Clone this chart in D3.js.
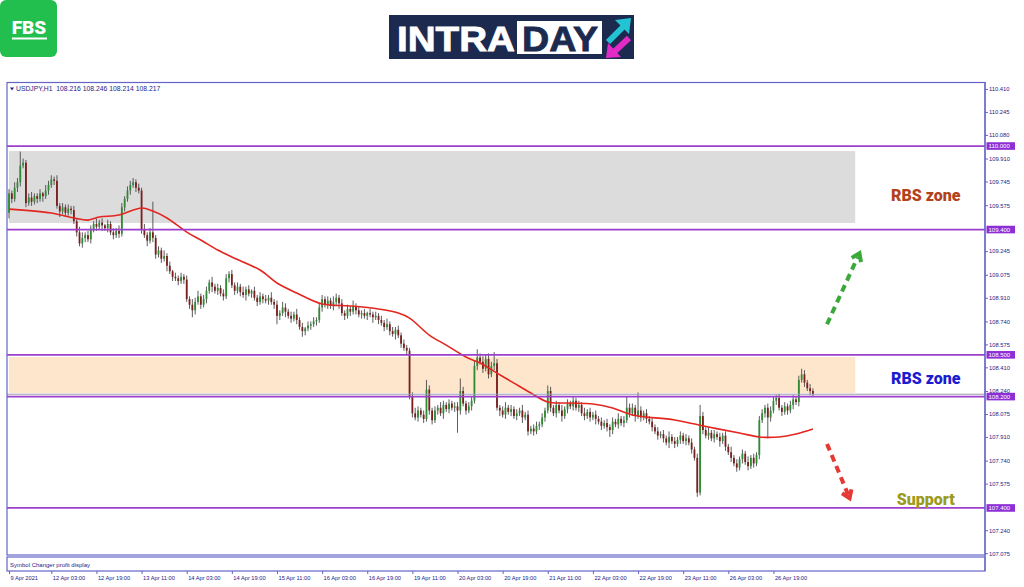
<!DOCTYPE html>
<html>
<head>
<meta charset="utf-8">
<script src="https://cdn.jsdelivr.net/npm/d3@7"></script>
<style>
  body { margin: 0; background: #fff; }
  svg { display: block; font-family: "Liberation Sans", Arial, sans-serif; }
</style>
</head>
<body>
<script>
// USDJPY H1 candles (open of bar i = close of bar i-1)
const firstOpen = 109.52;
const closes = [
  109.66,109.62,109.70,109.74,109.86,109.88,109.59,109.63,109.60,109.64,
  109.62,109.66,109.64,109.68,109.72,109.76,109.75,109.57,109.53,109.56,
  109.52,109.55,109.54,109.46,109.38,109.30,109.34,109.36,109.33,109.40,
  109.44,109.42,109.45,109.43,109.41,109.44,109.38,109.36,109.39,109.37,
  109.56,109.62,109.68,109.72,109.74,109.70,109.68,109.40,109.36,109.32,
  109.38,109.34,109.22,109.25,109.19,109.21,109.14,109.10,109.06,109.05,
  109.03,109.06,109.04,108.90,108.86,108.82,108.88,108.92,108.86,108.90,
  108.96,109.02,108.99,108.96,108.98,108.94,108.92,109.05,109.08,109.00,
  108.96,108.99,108.95,108.93,108.97,108.94,108.96,108.91,108.88,108.92,
  108.90,108.89,108.91,108.88,108.86,108.78,108.80,108.84,108.81,108.78,
  108.76,108.79,108.75,108.70,108.67,108.69,108.71,108.72,108.74,108.75,
  108.84,108.90,108.86,108.89,108.85,108.88,108.91,108.87,108.80,108.78,
  108.83,108.81,108.85,108.82,108.79,108.80,108.78,108.80,108.79,108.77,
  108.78,108.75,108.73,108.70,108.72,108.67,108.65,108.68,108.64,108.58,
  108.55,108.53,108.20,108.08,108.05,108.10,108.07,108.04,108.25,108.10,
  108.03,108.10,108.12,108.08,108.14,108.11,108.15,108.12,108.13,108.10,
  108.24,108.15,108.10,108.13,108.17,108.42,108.48,108.45,108.40,108.47,
  108.36,108.42,108.44,108.12,108.10,108.07,108.12,108.09,108.11,108.06,
  108.08,108.10,108.05,108.07,107.95,107.97,107.95,107.99,108.00,108.05,
  108.10,108.24,108.12,108.08,108.14,108.10,108.06,108.11,108.15,108.13,
  108.17,108.12,108.14,108.08,108.06,108.09,108.05,108.07,108.04,108.02,
  107.99,108.01,107.98,107.96,108.02,108.00,108.04,108.01,108.03,108.12,
  108.08,108.12,108.06,108.10,108.05,108.08,108.04,108.02,107.98,107.95,
  107.92,107.93,107.90,107.87,107.91,107.88,107.86,107.89,107.92,107.88,
  107.90,107.87,107.82,107.76,107.51,108.06,107.96,107.92,107.94,107.90,
  107.93,107.91,107.88,107.92,107.84,107.80,107.76,107.72,107.69,107.75,
  107.79,107.73,107.70,107.76,107.72,107.78,108.03,108.08,108.12,108.05,
  108.10,108.17,108.19,108.12,108.09,108.13,108.10,108.14,108.18,108.16,
  108.32,108.36,108.30,108.26,108.24,108.217
];
// wick lengths above / below the body, in hundredths of a yen
const upWick = [
  3,2,4,3,10,3,2,3,4,2, 2,3,1,4,3,3,2,4,2,3, 2,3,2,3,2,4,4,2,3,3, 2,4,2,3,1,3,2,3,2,4,
  3,2,3,3,3,2,3,2,4,2, 3,22,2,3,2,4,2,3,1,3, 2,3,2,3,2,4,3,4,2,3, 3,2,4,2,3,2,3,3,2,3,
  2,3,2,4,2,3,1,3,2,3, 2,3,2,4,2,3,2,4,3,2, 3,2,4,2,3,1,3,2,3,2, 3,3,2,3,2,4,3,2,3,2,
  3,2,4,2,3,2,3,1,3,2, 3,2,3,2,4,2,3,2,3,2, 3,2,2,3,4,3,2,3,7,3, 2,3,2,4,3,2,3,2,3,3,
  9,3,2,3,3,4,6,3,4,3, 4,3,8,3,2,3,4,2,3,2, 3,2,4,2,3,2,3,3,2,3, 2,4,3,2,3,2,4,2,3,2,
  3,2,3,2,4,2,3,2,3,2, 3,2,3,2,3,2,4,2,3,8, 3,3,2,13,3,2,3,2,3,2, 3,2,3,2,4,2,3,2,3,2,
  3,2,3,2,3,8,3,2,4,2, 3,2,3,2,3,2,4,2,3,2, 3,2,4,2,3,2,3,3,2,3, 3,3,2,3,2,3,2,3,3,2,
  3,4,3,2,3,2
];
const lowWick = [
  4,3,2,3,3,2,3,2,3,2, 3,2,4,2,3,2,3,2,4,2, 3,2,3,2,3,2,3,3,2,3, 2,3,2,4,2,3,2,3,2,3,
  2,3,2,3,2,3,2,3,2,4, 2,3,3,2,3,2,4,2,3,2, 3,2,3,2,3,5,3,2,3,2, 3,2,4,2,3,2,3,2,3,2,
  3,2,3,2,4,2,3,2,3,2, 3,2,3,2,3,6,3,2,4,2, 3,2,3,2,4,3,2,3,2,3, 2,3,2,3,2,3,2,4,2,3,
  2,3,2,3,2,3,2,3,2,4, 2,3,2,3,2,3,2,4,2,3, 2,3,2,3,2,3,2,3,2,3, 3,2,3,2,4,2,3,2,3,16,
  3,2,3,2,3,2,3,2,3,2, 3,2,3,2,4,2,3,2,3,2, 3,2,4,2,3,2,3,2,3,2, 3,2,3,2,3,2,4,2,3,2,
  3,2,3,2,3,2,3,2,4,2, 3,2,3,5,3,2,3,2,3,2, 3,2,4,2,3,2,3,2,3,2, 3,2,3,2,4,2,3,2,3,2,
  3,2,3,2,3,2,3,2,3,2, 3,2,4,2,3,2,3,2,3,2, 3,2,3,2,3,2,3,2,3,15, 3,2,3,2,3,2,3,2,3,2,
  3,2,3,2,3,2
];

// red moving average (bar index, price)
const maIdx = [0,15,23,28,32,39,47,51,56,63,68,74,79,89,95,102,111,121,131,138,142,149,155,162,167,173,179,185,191,198,207,214,221,236,248,259,266,273,279,285];
const maVal = [109.547,109.519,109.483,109.468,109.490,109.504,109.555,109.533,109.483,109.382,109.325,109.253,109.203,109.109,109.016,108.944,108.865,108.851,108.829,108.800,108.764,108.642,108.570,108.484,108.441,108.369,108.297,108.226,108.161,108.154,108.147,108.118,108.068,108.032,107.981,107.938,107.910,107.910,107.931,107.967];

// axes
const yTicks = [110.410,110.245,110.080,109.910,109.745,109.575,109.245,109.075,108.910,108.740,108.575,108.410,108.240,108.075,107.910,107.740,107.575,107.240,107.075];
const timeIdx = [0,15,31,47,63,79,95,111,127,143,159,175,191,207,223,239,255,271];
const timeLabels = ["9 Apr 2021","12 Apr 03:00","12 Apr 19:00","13 Apr 11:00","14 Apr 03:00","14 Apr 19:00","15 Apr 11:00","16 Apr 03:00","16 Apr 19:00","19 Apr 11:00","20 Apr 03:00","20 Apr 19:00","21 Apr 11:00","22 Apr 03:00","22 Apr 19:00","23 Apr 11:00","26 Apr 03:00","26 Apr 19:00"];

// drawn levels and zones
const levels = [110.000, 109.400, 108.500, 108.200, 107.400];
const bidPrice = 108.217;
const zoneHi = [109.964, 108.484];
const zoneLo = [109.447, 108.226];
const zoneFill = ["#dcdcdc", "#fde6cb"];
const zoneEnd = 300;

const noteText = ["RBS zone", "RBS zone", "Support"];
const notePrice = [109.648, 108.333, 107.464];
const noteColor = ["#b3421b", "#1b1bd0", "#9c9a1c"];
const noteBar = 325;

const arrowFrom = [[290, 108.72], [290, 107.86]];
const arrowTo = [[301.5, 109.23], [298, 107.47]];
const arrowColor = ["#3aa83a", "#e53935"];

var svg = d3.select("body").append("svg")
  .attr("width", 1024)
  .attr("height", 587);

// ---- logos
svg.append("rect").attr("x", 0).attr("y", 0).attr("width", 57).attr("height", 57)
  .attr("rx", 6).attr("fill", "#22bf4e");
svg.append("text").text("FBS")
  .attr("x", 29).attr("y", 33.5).attr("text-anchor", "middle")
  .style("font-family", "Roboto, 'Liberation Sans', sans-serif")
  .style("font-weight", "900").style("font-size", "19px").attr("fill", "#fff");
svg.append("rect").attr("x", 12).attr("y", 37.5).attr("width", 35).attr("height", 2).attr("fill", "#fff");

var logo = svg.append("g").attr("id", "intraday");
logo.append("rect").attr("x", 389).attr("y", 15).attr("width", 245).attr("height", 44).attr("fill", "#1c2a50");
logo.append("text").text("INTRA")
  .attr("x", 397).attr("y", 50.5).attr("textLength", 118).attr("lengthAdjust", "spacingAndGlyphs")
  .style("font-weight", "bold").style("font-size", "35px").attr("fill", "#fff")
  .attr("stroke", "#fff").attr("stroke-width", 0.8);
logo.append("rect").attr("x", 517).attr("y", 21).attr("width", 85).attr("height", 33).attr("fill", "#fff");
logo.append("text").text("DAY")
  .attr("x", 522).attr("y", 50.5).attr("textLength", 76).attr("lengthAdjust", "spacingAndGlyphs")
  .style("font-weight", "bold").style("font-size", "35px").attr("fill", "#1c2a50")
  .attr("stroke", "#1c2a50").attr("stroke-width", 0.8);
logo.append("line").attr("x1", 608).attr("y1", 42).attr("x2", 623).attr("y2", 27)
  .attr("stroke", "#22c4d4").attr("stroke-width", 6);
logo.append("polygon").attr("points", "631,18 615,20 629,34").attr("fill", "#22c4d4");
logo.append("line").attr("x1", 629).attr("y1", 38).attr("x2", 614).attr("y2", 52)
  .attr("stroke", "#e22bc6").attr("stroke-width", 6);
logo.append("polygon").attr("points", "606,58 608,43 621,57").attr("fill", "#e22bc6");

// ---- scales
var x = d3.scaleLinear().domain([0, 346]).range([9, 985]);
var y = d3.scaleLinear().domain([107.062, 110.46]).range([555, 82]);

var frameColor = "#6464c8";
var textColor = "#23238a";

// zones (background objects)
zoneHi.forEach((hi, i) => {
  svg.append("rect")
    .attr("x", x(0))
    .attr("y", y(hi))
    .attr("width", x(zoneEnd) - x(0))
    .attr("height", y(zoneLo[i]) - y(hi))
    .attr("fill", zoneFill[i]);
});

// candles
var candles = closes.map((c, i) => {
  var o = i == 0 ? firstOpen : closes[i - 1];
  return {
    i: i, o: o, c: c,
    h: Math.max(o, c) + upWick[i] / 100,
    l: Math.min(o, c) - lowWick[i] / 100
  };
});

var cg = svg.append("g").attr("id", "candles");
cg.selectAll("line")
  .data(candles)
  .enter()
  .append("line")
  .attr("x1", d => x(d.i)).attr("x2", d => x(d.i))
  .attr("y1", d => y(d.h)).attr("y2", d => y(d.l))
  .attr("stroke", "#4a4a4a").attr("stroke-width", 0.9);
cg.selectAll("rect")
  .data(candles)
  .enter()
  .append("rect")
  .attr("x", d => x(d.i) - 0.9)
  .attr("width", 1.8)
  .attr("y", d => y(Math.max(d.o, d.c)))
  .attr("height", d => Math.max(0.8, Math.abs(y(d.o) - y(d.c))))
  .attr("fill", d => d.c >= d.o ? "#2f8c35" : "#7a1e1e");

// moving average
var maLine = d3.line()
  .x(d => x(d))
  .y((d, k) => y(maVal[k]))
  .curve(d3.curveCatmullRom);
svg.append("path")
  .attr("d", maLine(maIdx))
  .attr("fill", "none")
  .attr("stroke", "#e3261f")
  .attr("stroke-width", 1.6);

// bid line + level lines
svg.append("line")
  .attr("x1", 7).attr("x2", 985)
  .attr("y1", y(bidPrice)).attr("y2", y(bidPrice))
  .attr("stroke", "#9a9aa8").attr("stroke-width", 1);
levels.forEach((p) => {
  svg.append("line")
    .attr("x1", 7).attr("x2", 985)
    .attr("y1", y(p)).attr("y2", y(p))
    .attr("stroke", "#9b3fcc").attr("stroke-width", 1.8);
});

// notes
noteText.forEach((t, i) => {
  svg.append("text").text(t)
    .attr("x", x(noteBar)).attr("y", y(notePrice[i]))
    .attr("text-anchor", "middle").attr("dominant-baseline", "central")
    .style("font-family", "Roboto, 'Open Sans', sans-serif")
    .style("font-weight", "900").style("font-size", "16px")
    .attr("fill", noteColor[i]);
});

// arrows
arrowFrom.forEach((f, i) => {
  var x1 = x(f[0]), y1 = y(f[1]), x2 = x(arrowTo[i][0]), y2 = y(arrowTo[i][1]);
  var ang = Math.atan2(y2 - y1, x2 - x1);
  var bx = x2 - 4 * Math.cos(ang), by = y2 - 4 * Math.sin(ang);
  svg.append("line")
    .attr("x1", x1).attr("y1", y1).attr("x2", bx).attr("y2", by)
    .attr("stroke", arrowColor[i]).attr("stroke-width", 4)
    .attr("stroke-dasharray", "7,5");
  var hl = 9, spread = 0.6;
  var pts = [
    [x2 - hl * Math.cos(ang - spread), y2 - hl * Math.sin(ang - spread)],
    [x2, y2],
    [x2 - hl * Math.cos(ang + spread), y2 - hl * Math.sin(ang + spread)]
  ];
  svg.append("polyline")
    .attr("points", pts.map(p => p.join(",")).join(" "))
    .attr("fill", "none").attr("stroke", arrowColor[i])
    .attr("stroke-width", 4).attr("stroke-linejoin", "miter");
});

// ---- frames
svg.append("rect").attr("x", 7).attr("y", 82.5).attr("width", 978).attr("height", 472.5)
  .attr("fill", "none").attr("stroke", frameColor).attr("stroke-width", 1.2);
svg.append("rect").attr("x", 7).attr("y", 557).attr("width", 978).attr("height", 14)
  .attr("fill", "none").attr("stroke", frameColor).attr("stroke-width", 1.2);

// header
svg.append("path").attr("d", "M10,87.5 L14,87.5 L12,90.5 Z").attr("fill", textColor);
svg.append("text").text("USDJPY,H1  108.216 108.246 108.214 108.217")
  .attr("x", 16).attr("y", 91.3).style("font-size", "6.8px").attr("fill", textColor)
  .attr("xml:space", "preserve");
svg.append("text").text("Symbol Changer profit display")
  .attr("x", 10).attr("y", 566.5).style("font-size", "6px").attr("fill", textColor);

// y axis
var y_axis = d3.axisRight(y)
  .tickValues(yTicks)
  .tickSize(3)
  .tickFormat(d3.format(".3f"));
var ya = svg.append("g")
  .attr("transform", "translate(985,0)")
  .call(y_axis);
ya.select(".domain").remove();
ya.selectAll("line").attr("stroke", frameColor);
ya.selectAll("text").attr("x", 4).style("font-size", "5.8px").attr("fill", textColor);
svg.append("line").attr("x1", 985).attr("x2", 985).attr("y1", 82).attr("y2", 571)
  .attr("stroke", frameColor).attr("stroke-width", 1.2);

// level price tags
levels.forEach((p) => {
  svg.append("rect")
    .attr("x", 986.5).attr("y", y(p) - 3.8)
    .attr("width", 28.5).attr("height", 7.6)
    .attr("fill", "#8e2fd6");
  svg.append("text").text(d3.format(".3f")(p))
    .attr("x", 988.5).attr("y", y(p)).attr("dominant-baseline", "central")
    .style("font-size", "6px").attr("fill", "#fff");
});

// x axis
var x_axis = d3.axisBottom(x)
  .tickValues(timeIdx)
  .tickSize(3)
  .tickFormat((d, i) => timeLabels[i]);
var xa = svg.append("g")
  .attr("transform", "translate(0,571)")
  .call(x_axis);
xa.select(".domain").remove();
xa.selectAll("line").attr("stroke", frameColor);
xa.selectAll("text")
  .attr("text-anchor", "start").attr("x", 1).attr("y", 4.5).attr("dy", "0.71em")
  .style("font-size", "5.7px").attr("fill", textColor);
</script>
</body>
</html>
